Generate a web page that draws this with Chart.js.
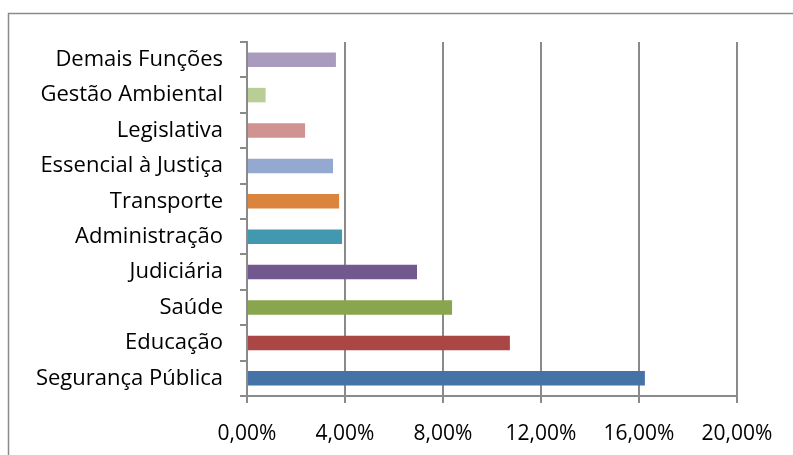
<!DOCTYPE html>
<html>
<head>
<meta charset="utf-8">
<script src="https://cdn.jsdelivr.net/npm/chart.js@4/dist/chart.umd.min.js"></script>
<style>
  html, body { margin: 0; padding: 0; background: #fff; }
  #wrap { width: 793px; height: 455px; position: relative; }
</style>
</head>
<body>
<div id="wrap"><canvas id="chart"></canvas></div>
<script>
// funções de governo, de cima para baixo
const categories = [
  'Demais Funções', 'Gestão Ambiental', 'Legislativa', 'Essencial à Justiça',
  'Transporte', 'Administração', 'Judiciária', 'Saúde', 'Educação', 'Segurança Pública'
];
const shares = [3.63, 0.76, 2.37, 3.51, 3.76, 3.88, 6.94, 8.37, 10.73, 16.24];
const barColors = [
  '#A99BBD', '#B9CD96', '#D19392', '#93A9CF', '#DB843D',
  '#4198AF', '#71588F', '#89A54E', '#AA4643', '#4572A7'
];
const xTicks = [0, 4, 8, 12, 16, 20];

const axisGray = '#8a8a8a';
const fontFamily = "'Open Sans', 'DejaVu Sans', sans-serif";

// moldura externa do gráfico
const frame = {
  id: 'frame',
  beforeDraw(chart) {
    const ctx = chart.ctx;
    ctx.save();
    ctx.strokeStyle = '#8a8a8a';
    ctx.lineWidth = 1.5;
    ctx.strokeRect(8.5, 13.5, 800, 460);
    ctx.restore();
  }
};

new Chart(document.getElementById('chart'), {
  type: 'bar',
  data: {
    labels: categories,
    datasets: [{
      data: shares,
      backgroundColor: barColors,
      borderWidth: 0,
      barPercentage: 0.41,
      categoryPercentage: 1
    }]
  },
  options: {
    indexAxis: 'y',
    responsive: true,
    maintainAspectRatio: false,
    animation: false,
    layout: { padding: { top: 42, right: 56, bottom: 0, left: 0 } },
    plugins: {
      legend: { display: false },
      tooltip: { enabled: false }
    },
    scales: {
      x: {
        min: 0,
        max: 20,
        afterBuildTicks: s => { s.ticks = xTicks.map(v => ({ value: v })); },
        afterFit: s => { s.height = 59; },
        border: { color: axisGray, width: 2 },
        grid: { color: axisGray, lineWidth: 2, tickLength: 7 },
        ticks: {
          color: '#000',
          padding: 18,
          maxRotation: 0,
          font: { family: fontFamily, size: 21 },
          callback: v => v.toFixed(2).replace('.', ',') + '%'
        }
      },
      y: {
        afterFit: s => { s.width = 247; },
        border: { color: axisGray, width: 2 },
        grid: { drawOnChartArea: false, color: axisGray, lineWidth: 2, tickLength: 7, offset: true },
        ticks: {
          color: '#000',
          padding: 17,
          autoSkip: false,
          font: { family: fontFamily, size: 22 }
        }
      }
    }
  },
  plugins: [frame]
});
</script>
</body>
</html>
